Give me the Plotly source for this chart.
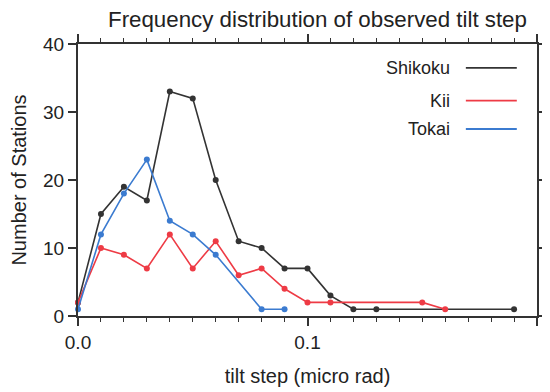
import plotly.graph_objects as go

# ---- data ----
series_names = ["Shikoku", "Kii", "Tokai"]
series_colors = ["#333333", "#ee3b45", "#3b7bd0"]

shikoku_x = [0.00, 0.01, 0.02, 0.03, 0.04, 0.05, 0.06, 0.07, 0.08, 0.09, 0.10, 0.11, 0.12, 0.13, 0.19]
shikoku_y = [2, 15, 19, 17, 33, 32, 20, 11, 10, 7, 7, 3, 1, 1, 1]

kii_x = [0.00, 0.01, 0.02, 0.03, 0.04, 0.05, 0.06, 0.07, 0.08, 0.09, 0.10, 0.11, 0.15, 0.16]
kii_y = [2, 10, 9, 7, 12, 7, 11, 6, 7, 4, 2, 2, 2, 1]

tokai_x = [0.00, 0.01, 0.02, 0.03, 0.04, 0.05, 0.06, 0.08, 0.09]
tokai_y = [1, 12, 18, 23, 14, 12, 9, 1, 1]

x_tickvals = [0.0, 0.1, 0.2]
x_ticktext = ["0.0", "0.1", "0.2"]
y_tickvals = [0, 10, 20, 30, 40]

title_text = "Frequency distribution of observed tilt step"
x_title = "tilt step (micro rad)"
y_title = "Number of Stations"

FONT = "Liberation Sans, Arial, Helvetica, sans-serif"
AX = "#333333"

fig = go.Figure()
for name, color, xs, ys in zip(series_names, series_colors,
                               [shikoku_x, kii_x, tokai_x],
                               [shikoku_y, kii_y, tokai_y]):
    fig.add_trace(go.Scatter(
        x=xs, y=ys, mode="lines+markers", name=name,
        line=dict(color=color, width=1.6),
        marker=dict(color=color, size=6),
        cliponaxis=False, showlegend=False,
    ))

# custom legend (text on the left, line sample on the right)
legend_y = [0.912, 0.792, 0.6875]
for name, color, ly in zip(series_names, series_colors, legend_y):
    fig.add_annotation(x=0.815, y=ly, xref="paper", yref="paper",
                       text=name, showarrow=False, xanchor="right", yanchor="middle",
                       font=dict(family=FONT, size=18, color="#222222"))
    fig.add_shape(type="line", xref="paper", yref="paper",
                  x0=0.845, x1=0.956, y0=ly, y1=ly,
                  line=dict(color=color, width=1.8))

# page body has an 8px margin, so the figure is 8px smaller and margins shifted
fig.update_layout(
    width=542, height=384,
    margin=dict(l=70, r=13, t=36, b=76),
    paper_bgcolor="white", plot_bgcolor="white",
    font=dict(family=FONT, size=19, color="#222222"),
    title=dict(text=title_text, x=0.571, xanchor="center", y=0.99, yanchor="top",
               font=dict(family=FONT, size=22.3, color="#222222")),
)

fig.update_xaxes(
    range=[0, 0.2], tickvals=x_tickvals, ticktext=x_ticktext,
    showgrid=False, zeroline=False, automargin=False,
    showline=True, linecolor=AX, linewidth=2, mirror="ticks",
    ticks="outside", ticklen=8, tickwidth=1.5, tickcolor=AX,
    minor=dict(dtick=0.01, ticks="outside", ticklen=4, tickwidth=1, tickcolor=AX, showgrid=False),
    tickfont=dict(family=FONT, size=19),
    title=dict(text=x_title, font=dict(family=FONT, size=20), standoff=17),
)
fig.update_yaxes(
    range=[0, 40], tickvals=y_tickvals,
    showgrid=False, zeroline=False, automargin=False,
    showline=True, linecolor=AX, linewidth=2, mirror="ticks",
    ticks="outside", ticklen=8, tickwidth=1.5, tickcolor=AX,
    tickfont=dict(family=FONT, size=19),
    title=dict(text=y_title, font=dict(family=FONT, size=20), standoff=14),
)

fig.write_html("out.html")
